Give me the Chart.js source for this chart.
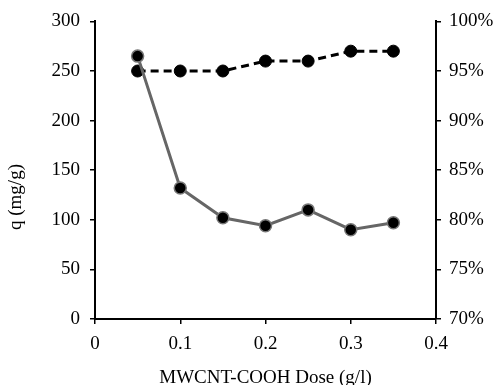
<!DOCTYPE html>
<html>
<head>
<meta charset="utf-8">
<script src="https://cdn.jsdelivr.net/npm/chart.js@4"></script>
<style>
  html, body { margin: 0; padding: 0; background: #fff; }
  #wrap { width: 502px; height: 385px; }
</style>
</head>
<body>
<div id="wrap"><canvas id="c" width="502" height="385"></canvas></div>
<script>
//______________________________________________________
var Doses   = [0.05, 0.10, 0.15, 0.20, 0.25, 0.30, 0.35];
var QValues = [265, 132, 102, 94, 110, 90, 97];     // q (mg/g)
var Removal = [95, 95, 95, 96, 96, 97, 97];          // removal %
var XTicks  = ['0', '0.1', '0.2', '0.3', '0.4'];
var YTitle  = 'q (mg/g)';

const FontFam = '"Liberation Serif", "Times New Roman", serif';
const TickFont = { family: FontFam, size: 19 };

function pts (ys) {
    return Doses.map(function (x, i) { return { x: x, y: ys[i] }; });
}
function fixW (w) { return function (s) { s.width = w; }; }
function fixH (h) { return function (s) { s.height = h; }; }

// left title sits a bit below the axis middle in the original, so draw it by hand
var yTitlePlugin = {
    id: 'yTitle',
    afterDraw: function (chart) {
        var ctx = chart.ctx;
        ctx.save();
        ctx.translate(16, 197);
        ctx.rotate(-Math.PI / 2);
        ctx.font = '19px ' + FontFam;
        ctx.fillStyle = '#000';
        ctx.textAlign = 'center';
        ctx.textBaseline = 'middle';
        ctx.fillText(YTitle, 0, 0);
        ctx.restore();
    }
};

var axisBase = {
    grid: { display: true, drawOnChartArea: false, drawTicks: true, tickLength: 5, color: '#000', lineWidth: 1.5 },
    border: { display: true, color: '#000', width: 2 },
};

new Chart('c', {
    type: 'scatter',
    data: {
        datasets: [{
            data: pts(QValues),
            yAxisID: 'yq',
            showLine: true,
            borderColor: '#666',
            borderWidth: 3,
            pointRadius: 6,
            pointBackgroundColor: '#000',
            pointBorderColor: '#777',
            pointBorderWidth: 1.5
        }, {
            data: pts(Removal),
            yAxisID: 'yr',
            showLine: true,
            borderColor: '#000',
            borderWidth: 3,
            borderDash: [8, 5],
            pointRadius: 6,
            pointBackgroundColor: '#000',
            pointBorderColor: '#000',
            pointBorderWidth: 1
        }]
    },
    options: {
        responsive: false,
        animation: false,
        layout: { padding: { top: 20, left: 5, right: 0, bottom: 0 } },
        plugins: { legend: { display: false }, tooltip: { enabled: false } },
        scales: {
            x: Object.assign({}, axisBase, {
                type: 'linear', min: 0, max: 0.4,
                ticks: { stepSize: 0.1, color: '#000', font: TickFont, padding: 9,
                         callback: function (v, i) { return XTicks[i]; } },
                title: { display: true, text: 'MWCNT-COOH Dose (g/l)', color: '#000',
                         font: TickFont, padding: { top: 0, bottom: -4 } },
                afterFit: fixH(66)
            }),
            yq: Object.assign({}, axisBase, {
                position: 'left', min: 0, max: 300,
                ticks: { stepSize: 50, color: '#000', font: TickFont, padding: 10 },
                afterFit: fixW(90)
            }),
            yr: Object.assign({}, axisBase, {
                position: 'right', min: 70, max: 100,
                ticks: { stepSize: 5, color: '#000', font: TickFont, padding: 8,
                         callback: function (v) { return v + '%'; } },
                afterFit: fixW(66)
            })
        }
    },
    plugins: [yTitlePlugin]
});
</script>
</body>
</html>
